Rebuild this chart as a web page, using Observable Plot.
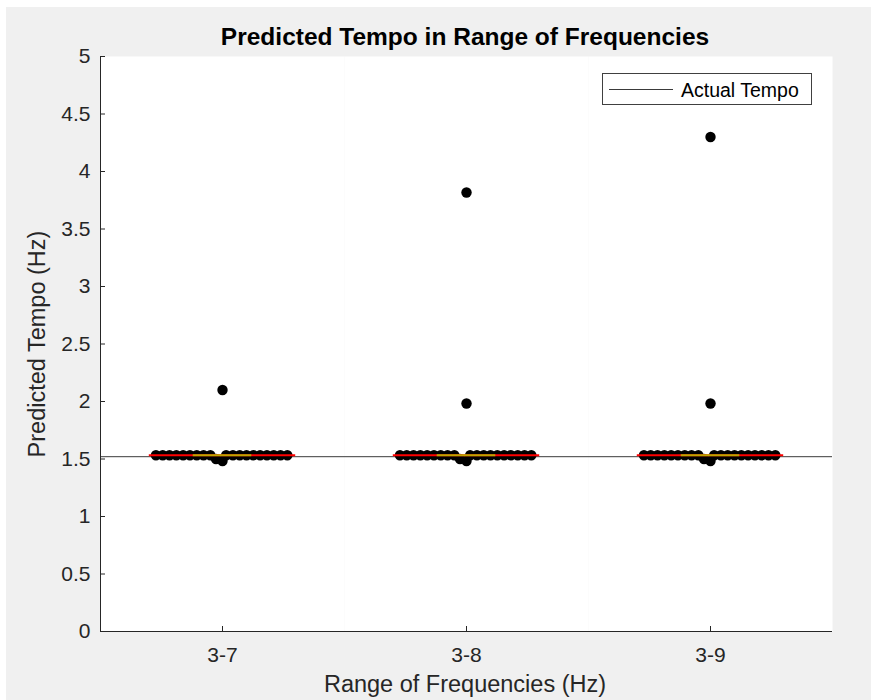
<!DOCTYPE html>
<html>
<head>
<meta charset="utf-8">
<script src="https://cdn.jsdelivr.net/npm/d3@7"></script>
<script src="https://cdn.jsdelivr.net/npm/@observablehq/plot@0.6"></script>
<style>
html,body{margin:0;padding:0;background:#fff;}
#fig{position:relative;width:871px;height:700px;overflow:hidden;font-family:"Liberation Sans",Arial,sans-serif;}
#bg{position:absolute;left:6px;top:7px;width:865px;height:693px;background:#f0f0f0;}
#chart{position:absolute;left:0;top:0;}
#overlay{position:absolute;left:0;top:0;}
</style>
</head>
<body>
<div id="fig"><div id="bg"></div><div id="chart"></div><svg id="overlay" width="871" height="700"></svg></div>
<script>
// ---- data ----
const groups = ["3-7", "3-8", "3-9"];
const predicted37 = [1.483, 1.500,
  1.533, 1.533, 1.533, 1.533, 1.533, 1.533, 1.533, 1.533, 1.533, 1.533,
  1.533, 1.533, 1.533, 1.533, 1.533, 1.533, 1.533, 1.533, 1.533,
  2.100];
const predicted38 = [1.483, 1.500,
  1.533, 1.533, 1.533, 1.533, 1.533, 1.533, 1.533, 1.533, 1.533, 1.533,
  1.533, 1.533, 1.533, 1.533, 1.533, 1.533, 1.533, 1.533, 1.533,
  1.983, 3.817];
const predicted39 = [1.483, 1.500,
  1.533, 1.533, 1.533, 1.533, 1.533, 1.533, 1.533, 1.533, 1.533, 1.533,
  1.533, 1.533, 1.533, 1.533, 1.533, 1.533, 1.533, 1.533, 1.533,
  1.983, 4.300];
const actualTempo = 1.52;
const yTicks = [0, 0.5, 1, 1.5, 2, 2.5, 3, 3.5, 4, 4.5, 5];
const titleText = "Predicted Tempo in Range of Frequencies";
const xLabel = "Range of Frequencies (Hz)";
const yLabel = "Predicted Tempo (Hz)";
const legendLabel = "Actual Tempo";

// ---- tables ----
const series = [predicted37, predicted38, predicted39];
const rows = groups.flatMap((g, i) => series[i].map(v => ({group: g, value: v})));
const stats = groups.map((g, i) => ({group: g, median: d3.median(series[i])}));

const ink = "#262626";
const plot = Plot.plot({
  width: 871,
  height: 700,
  marginLeft: 99,
  marginRight: 39,
  marginTop: 56,
  marginBottom: 69,
  style: {background: "transparent", fontFamily: "'Liberation Sans', Arial, sans-serif", color: ink, overflow: "visible"},
  fx: {domain: groups, padding: 0, axis: null},
  x: {domain: [-0.5, 0.5], axis: null},
  y: {domain: [0, 5], axis: null},
  marks: [
    Plot.frame({fill: "white", stroke: "none"}),
    Plot.ruleY([actualTempo], {stroke: "#3a3a3a", strokeWidth: 1}),
    Plot.dot(rows, Plot.dodgeX({anchor: "middle", padding: -3.6}, {fx: "group", y: "value", r: 5.2, fill: "black", stroke: "none"})),
    Plot.ruleY(stats, {fx: "group", y: "median", x1: -0.3, x2: 0.3, stroke: "#ff0000", strokeWidth: 2}),
    Plot.ruleY(stats, {fx: "group", y: "median", x1: -0.12, x2: 0.12, stroke: "#bca700", strokeWidth: 2}),
    Plot.ruleY([0], {stroke: ink, strokeWidth: 1}),
    Plot.frame({anchor: "left", facetAnchor: "left", stroke: ink}),
    Plot.axisY({ticks: yTicks, tickSize: 0, tickPadding: 10, tickFormat: d => `${d}`, fontSize: 21, fill: ink, label: null}),
    Plot.axisY({ticks: yTicks, tickSize: 5, dx: 5, fill: "none", stroke: ink, label: null}),
    Plot.axisFx({anchor: "bottom", tickSize: 0, tickPadding: 16, fontSize: 21, fill: ink, label: null}),
    Plot.axisFx({anchor: "bottom", tickSize: 5, dy: -5, fill: "none", stroke: ink, label: null})
  ]
});
document.getElementById("chart").append(plot);

// ---- title, axis labels, legend ----
const ov = d3.select("#overlay").style("font-family", "'Liberation Sans', Arial, sans-serif");
ov.append("text").attr("x", 465).attr("y", 45).attr("text-anchor", "middle")
  .attr("font-size", 24.5).attr("font-weight", "bold").attr("fill", "#000").text(titleText);
ov.append("text").attr("x", 465).attr("y", 692).attr("text-anchor", "middle")
  .attr("font-size", 23.5).attr("fill", ink).text(xLabel);
ov.append("text").attr("transform", "translate(45,344) rotate(-90)").attr("text-anchor", "middle")
  .attr("font-size", 23.5).attr("fill", ink).text(yLabel);
const lg = ov.append("g");
lg.append("rect").attr("x", 602.5).attr("y", 73.5).attr("width", 209).attr("height", 31)
  .attr("fill", "white").attr("stroke", "#404040").attr("stroke-width", 1);
lg.append("line").attr("x1", 609).attr("x2", 673).attr("y1", 89.5).attr("y2", 89.5)
  .attr("stroke", "#3a3a3a").attr("stroke-width", 1);
lg.append("text").attr("x", 681).attr("y", 96.5).attr("font-size", 19.5).attr("fill", "#000").text(legendLabel);
</script>
</body>
</html>
